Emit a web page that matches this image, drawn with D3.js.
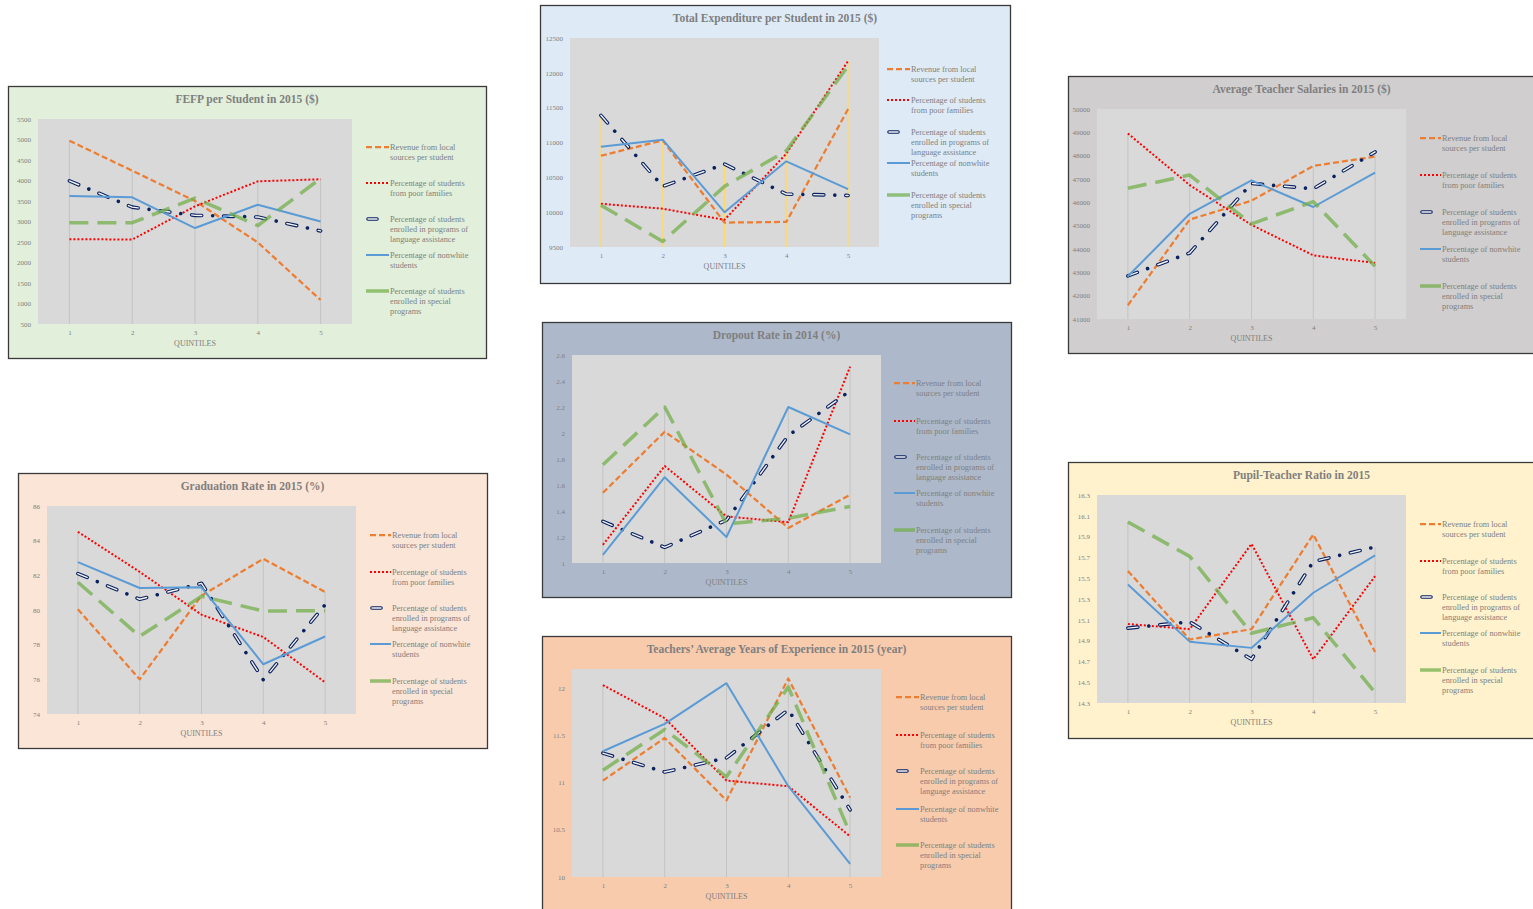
<!DOCTYPE html>
<html><head><meta charset="utf-8">
<script src="https://cdn.jsdelivr.net/npm/d3@7"></script>
<style>
body{margin:0;background:#fff;}
svg{display:block;font-family:"Liberation Serif","Times New Roman",serif;}
</style>
</head><body><svg id="c" width="1533" height="909"></svg>
<script>
const quintiles = [1, 2, 3, 4, 5];
const seriesLabels = [
  ["Revenue from local", "sources per student"],
  ["Percentage of students", "from poor families"],
  ["Percentage of students", "enrolled in programs of", "language assistance"],
  ["Percentage of nonwhite", "students"],
  ["Percentage of students", "enrolled in special", "programs"]
];

// FEFP per Student in 2015 ($)
const fefpRevenue  = [4970, 4240, 3500, 2490, 1085];
const fefpPoor     = [2570, 2560, 3370, 3980, 4030];
const fefpLanguage = [3990, 3350, 3150, 3110, 2770];
const fefpNonwhite = [3620, 3590, 2840, 3410, 3000];
const fefpSpecial  = [2970, 2970, 3570, 2900, 4050];

// Total Expenditure per Student in 2015 ($)
const totRevenue  = [10810, 11030, 9850, 9860, 11480];
const totPoor     = [10120, 10050, 9890, 10840, 12170];
const totLanguage = [11390, 10370, 10690, 10260, 10240];
const totNonwhite = [10940, 11040, 10000, 10730, 10330];
const totSpecial  = [10100, 9580, 10370, 10880, 12100];

// Average Teacher Salaries in 2015 ($)
const salRevenue  = [41590, 45260, 46070, 47560, 47960];
const salPoor     = [48950, 46740, 45030, 43730, 43400];
const salLanguage = [42850, 43830, 46810, 46580, 48160];
const salNonwhite = [42830, 45510, 46940, 45800, 47270];
const salSpecial  = [46600, 47170, 45080, 46030, 43260];

// Graduation Rate in 2015 (%)
const gradRevenue  = [80.05, 76.0, 80.83, 82.95, 81.04];
const gradPoor     = [84.51, 82.2, 79.73, 78.44, 75.83];
const gradLanguage = [82.1, 80.62, 81.54, 75.97, 80.3];
const gradNonwhite = [82.76, 81.27, 81.31, 76.87, 78.47];
const gradSpecial  = [81.6, 78.48, 80.79, 79.94, 79.96];

// Dropout Rate in 2014 (%)
const dropRevenue  = [1.54, 2.01, 1.68, 1.27, 1.525];
const dropPoor     = [1.14, 1.746, 1.358, 1.314, 2.51];
const dropLanguage = [1.32, 1.12, 1.33, 1.98, 2.325];
const dropNonwhite = [1.062, 1.66, 1.2, 2.2, 1.99];
const dropSpecial  = [1.756, 2.2, 1.3, 1.345, 1.435];

// Teachers' Average Years of Experience in 2015 (year)
const expRevenue  = [11.02, 11.47, 10.81, 12.1, 10.84];
const expPoor     = [12.03, 11.68, 11.02, 10.96, 10.43];
const expLanguage = [11.31, 11.11, 11.26, 11.77, 10.71];
const expNonwhite = [11.33, 11.62, 12.05, 10.96, 10.14];
const expSpecial  = [11.13, 11.56, 11.06, 12.01, 10.46];

// Pupil-Teacher Ratio in 2015
const ptrRevenue  = [15.57, 14.91, 15.01, 15.92, 14.79];
const ptrPoor     = [15.06, 15.01, 15.83, 14.72, 15.52];
const ptrLanguage = [15.02, 15.08, 14.72, 15.66, 15.8];
const ptrNonwhite = [15.44, 14.89, 14.83, 15.36, 15.72];
const ptrSpecial  = [16.04, 15.71, 14.97, 15.12, 14.4];

const panelTitles = [
  "FEFP per Student in 2015 ($)",
  "Total Expenditure per Student in 2015 ($)",
  "Average Teacher Salaries in 2015 ($)",
  "Graduation Rate in 2015 (%)",
  "Dropout Rate in 2014 (%)",
  "Teachers\u2019 Average Years of Experience in 2015 (year)",
  "Pupil-Teacher Ratio in 2015"
];
const panelYTicks = [
  [500, 1000, 1500, 2000, 2500, 3000, 3500, 4000, 4500, 5000, 5500],
  [9500, 10000, 10500, 11000, 11500, 12000, 12500],
  [41000, 42000, 43000, 44000, 45000, 46000, 47000, 48000, 49000, 50000],
  [74, 76, 78, 80, 82, 84, 86],
  [1, 1.2, 1.4, 1.6, 1.8, 2, 2.2, 2.4, 2.6],
  [10, 10.5, 11, 11.5, 12],
  [14.3, 14.5, 14.7, 14.9, 15.1, 15.3, 15.5, 15.7, 15.9, 16.1, 16.3]
];
const panelYDomains = [[500, 5500], [9500, 12500], [41000, 50000], [74, 86], [1, 2.6], [10, 12.2], [14.3, 16.3]];
const panelValues = [
  [fefpRevenue, fefpPoor, fefpLanguage, fefpNonwhite, fefpSpecial],
  [totRevenue, totPoor, totLanguage, totNonwhite, totSpecial],
  [salRevenue, salPoor, salLanguage, salNonwhite, salSpecial],
  [gradRevenue, gradPoor, gradLanguage, gradNonwhite, gradSpecial],
  [dropRevenue, dropPoor, dropLanguage, dropNonwhite, dropSpecial],
  [expRevenue, expPoor, expLanguage, expNonwhite, expSpecial],
  [ptrRevenue, ptrPoor, ptrLanguage, ptrNonwhite, ptrSpecial]
];

// layout (positions & styles)
const layout = [
  {x: 8,    y: 86,  w: 478, h: 272, bg: "#e2efda", p: [30, 344, 33, 238], lx: [358, 381], ly: [61, 97, 133, 169, 205], drop: "#c3c3c3"},
  {x: 540,  y: 5,   w: 470, h: 278, bg: "#deebf7", p: [30, 339, 33, 242], lx: [347, 370], ly: [64, 95, 127, 158, 190], drop: "#ffd966"},
  {x: 1068, y: 76,  w: 467, h: 277, bg: "#d0cece", p: [29, 338, 33, 243], lx: [352, 373], ly: [62, 99, 136, 173, 210], drop: "#c3c3c3"},
  {x: 18,   y: 473, w: 469, h: 275, bg: "#fbe5d6", p: [29, 338, 33, 241], lx: [352, 373], ly: [62, 99, 135, 171, 208], drop: "#c3c3c3"},
  {x: 542,  y: 322, w: 469, h: 275, bg: "#adb9ca", p: [30, 339, 33, 241], lx: [352, 373], ly: [61, 99, 135, 171, 208], drop: "#c3c3c3"},
  {x: 542,  y: 636, w: 469, h: 278, bg: "#f8cbad", p: [30, 339, 33, 241], lx: [354, 377], ly: [61, 99, 135, 173, 209], drop: "#c3c3c3"},
  {x: 1068, y: 462, w: 467, h: 276, bg: "#fff2cc", p: [29, 338, 33, 241], lx: [352, 373], ly: [62, 99, 135, 171, 208], drop: "#c3c3c3"}
];

const styles = [
  {color: "#ed7d31", width: 2.25, dash: "6,3"},
  {color: "#ff0000", width: 2, dash: "2,2"},
  {hollow: true},
  {color: "#5b9bd5", width: 2, dash: null},
  {color: "#70ad47", width: 3.5, dash: "19,9", opacity: 0.72}
];
const textColor = "#7f7f7f";

const svg = d3.select("#c");

function drawSeries(g, pathD, st) {
  if (st.hollow) {
    g.append("path").attr("d", pathD).attr("fill", "none")
      .attr("stroke", "#0b2260").attr("stroke-width", 3.6)
      .attr("stroke-linecap", "round").attr("stroke-linejoin", "round")
      .attr("stroke-dasharray", "10,11,0.01,11");
    g.append("path").attr("d", pathD).attr("fill", "none")
      .attr("stroke", "#f4f4f4").attr("stroke-width", 1.4)
      .attr("stroke-linecap", "round").attr("stroke-linejoin", "round")
      .attr("stroke-dasharray", "10,22.01");
  } else {
    const p = g.append("path").attr("d", pathD).attr("fill", "none")
      .attr("stroke", st.color).attr("stroke-width", st.width)
      .attr("stroke-linejoin", "round");
    if (st.dash) p.attr("stroke-dasharray", st.dash);
    if (st.opacity) p.attr("stroke-opacity", st.opacity);
  }
}

layout.forEach((L, i) => {
  const g = svg.append("g").attr("transform", `translate(${L.x},${L.y})`);
  g.append("rect").attr("x", 0.5).attr("y", 0.5).attr("width", L.w).attr("height", L.h)
    .attr("fill", L.bg).attr("stroke", "#3a3a3a").attr("stroke-width", 1.3);

  const [px0, px1, py0, py1] = L.p;
  g.append("rect").attr("x", px0).attr("y", py0).attr("width", px1 - px0).attr("height", py1 - py0)
    .attr("fill", "#d9d9d9");

  const x = d3.scalePoint().domain(quintiles).range([px0, px1]).padding(0.5);
  const y = d3.scaleLinear().domain(panelYDomains[i]).range([py1, py0]);
  const vals = panelValues[i];

  // drop lines
  quintiles.forEach((q, k) => {
    const m = d3.max(vals, s => s[k]);
    g.append("line").attr("x1", x(q)).attr("x2", x(q)).attr("y1", y(m)).attr("y2", py1)
      .attr("stroke", L.drop).attr("stroke-width", 1);
  });

  // y axis
  const ya = g.append("g").attr("transform", `translate(${px0 - 7},0)`)
    .call(d3.axisLeft(y).tickValues(panelYTicks[i]).tickSize(0).tickPadding(0).tickFormat(d3.format("")));
  ya.select(".domain").remove();
  ya.selectAll("text").attr("fill", textColor).attr("font-size", "7px")
    .attr("font-family", "Liberation Serif, serif");

  // x axis
  const xa = g.append("g").attr("transform", `translate(0,${py1 + 6})`)
    .call(d3.axisBottom(x).tickSize(0).tickPadding(0));
  xa.select(".domain").remove();
  xa.selectAll("text").attr("fill", textColor).attr("font-size", "7px")
    .attr("font-family", "Liberation Serif, serif");

  g.append("text").attr("x", (px0 + px1) / 2).attr("y", py1 + 22)
    .attr("text-anchor", "middle").attr("fill", textColor).attr("font-size", "8px")
    .text("QUINTILES");

  // title
  g.append("text").attr("x", L.w / 2).attr("y", 17).attr("text-anchor", "middle")
    .attr("fill", textColor).attr("font-size", "11.5px").attr("font-weight", "bold")
    .text(panelTitles[i]);

  // series
  const line = d3.line().x((d, k) => x(quintiles[k])).y(d => y(d));
  vals.forEach((s, k) => drawSeries(g, line(s), styles[k]));

  // legend
  seriesLabels.forEach((lbl, k) => {
    const ly = L.ly[k];
    const st = styles[k];
    let d;
    if (st.hollow) d = `M${L.lx[0] + 2},${ly}L${L.lx[0] + 11},${ly}`;
    else d = `M${L.lx[0]},${ly}L${L.lx[1]},${ly}`;
    if (st.hollow) {
      g.append("path").attr("d", d).attr("stroke", "#0b2260").attr("stroke-width", 3.6)
        .attr("stroke-linecap", "round");
      g.append("path").attr("d", d).attr("stroke", "#f4f4f4").attr("stroke-width", 1.4)
        .attr("stroke-linecap", "round");
    } else {
      const p = g.append("path").attr("d", d).attr("stroke", st.color).attr("stroke-width", st.width);
      if (st.dash && k !== 4) p.attr("stroke-dasharray", st.dash);
      if (st.opacity) p.attr("stroke-opacity", st.opacity);
    }
    const t = g.append("text").attr("x", L.lx[1] + 1).attr("y", ly + 3)
      .attr("fill", textColor).attr("font-size", "8.3px");
    lbl.forEach((s, j) => t.append("tspan").attr("x", L.lx[1] + 1).attr("dy", j === 0 ? 0 : 9.8).text(s));
  });
});
</script>
</body></html>
